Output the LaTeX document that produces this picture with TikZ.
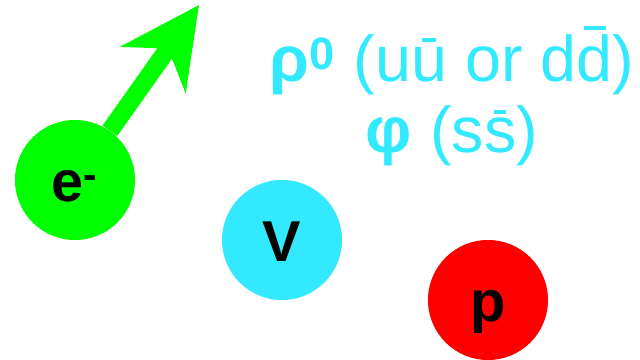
\documentclass[tikz,border=0pt]{standalone}
\usepackage{fontspec}
\setmainfont{Liberation Sans}
\usepackage{xcolor}
\usepackage{tikz}
\usetikzlibrary{arrows.meta,positioning}

\definecolor{elgreen}{RGB}{0,255,0}
\definecolor{mesoncyan}{RGB}{51,233,255}
\definecolor{protonred}{RGB}{255,0,0}

% antiquark: letter, bar height, bar width
\newcommand{\antiq}[3]{\leavevmode\setbox0\hbox{#1}\rlap{\hbox to\wd0{\hfil\rule[#2]{#3}{0.065em}\hfil}}\box0\relax}

\begin{document}
\begin{tikzpicture}[
			x=0.025cm, y=-0.025cm,
			particle/.style={circle, minimum size=3cm, inner sep=0pt, text height=30pt, text depth=0pt, font=\fontsize{41}{41}\selectfont\bfseries},
			statetext/.style={text=mesoncyan, anchor=base, font=\fontsize{46}{50}\selectfont},
			recoil/.style={draw=elgreen, line width=12.8pt, -{Stealth[length=56pt, width=56pt, inset=18pt]}}
			]
			\useasboundingbox (0,0) rectangle (640,360);
			% Particles
			\node [particle, fill=elgreen] (elec) at (75,180) {e\textsuperscript{-}};
			\node [particle, fill=mesoncyan] (vmeson) at (282,240) {V};
			\node [particle, fill=protonred] (proton) at (488,300) {p};
			
			% Scattered electron
			\coordinate (etip) at (199,5);
			\path [recoil] (elec) -- (etip);
			
			% Vector meson states
			\node [statetext] (rho) at (452,82) {\textbf{ρ}\textsuperscript{\textbf{0}} (u\antiq{u}{0.62em}{0.22em} or d\antiq{d}{0.8em}{0.34em})};
			\node [statetext] (phi) at (452,153) {\textbf{φ} (s\antiq{s}{0.6em}{0.19em})};
		\end{tikzpicture}
\end{document}
